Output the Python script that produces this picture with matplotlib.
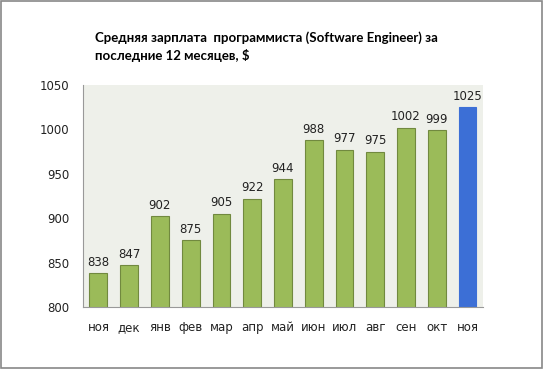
import numpy as np
import matplotlib.pyplot as plt
from matplotlib.patches import Rectangle

months = ['ноя', 'дек', 'янв', 'фев', 'мар', 'апр', 'май', 'июн', 'июл', 'авг', 'сен', 'окт', 'ноя']
salary = [838, 847, 902, 875, 905, 922, 944, 988, 977, 975, 1002, 999, 1025]

green = '#9BBB59'
green_edge = '#71893F'
blue = '#3C6FD6'

fig = plt.figure(figsize=(5.44, 3.69), dpi=100)
ax = fig.add_axes([0.1526, 0.168, 0.735, 0.602])
ax.set_facecolor('#EEF0EA')

x = np.arange(len(months))
colors = [green] * (len(months) - 1) + [blue]
edges = [green_edge] * (len(months) - 1) + [blue]
bars = ax.bar(x, salary, width=0.58, color=colors, edgecolor=edges, linewidth=0.8, zorder=2)

for xi, v in zip(x, salary):
    ax.text(xi, v + 5, str(v), ha='center', va='bottom', fontsize=8.5, color='#222222')

ax.set_ylim(800, 1050)
ax.set_yticks(range(800, 1051, 50))
ax.set_xlim(-0.5, len(months) - 0.5)
ax.set_xticks(x)
ax.set_xticklabels(months)
ax.tick_params(axis='both', length=0, labelsize=8.5, colors='#222222')
ax.tick_params(axis='x', pad=10)
ax.tick_params(axis='y', pad=10)

for side in ['top', 'right']:
    ax.spines[side].set_visible(False)
for side in ['left', 'bottom']:
    ax.spines[side].set_color('#999999')
    ax.spines[side].set_linewidth(0.8)

fig.text(0.175, 0.873, 'Средняя зарплата  программиста (Software Engineer) за\nпоследние 12 месяцев, $',
         fontsize=9.5, fontweight='bold', ha='left', va='center', linespacing=1.5,
         family='Lato')

fig.patches.append(Rectangle((0.002, 0.003), 0.995, 0.994, transform=fig.transFigure,
                             fill=False, edgecolor='#888888', linewidth=1.2))

fig.savefig('out.png', dpi=100)
